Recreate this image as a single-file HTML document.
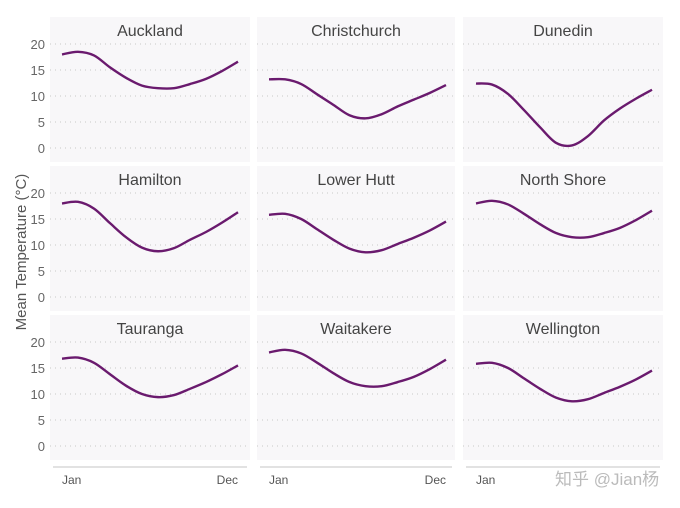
<!DOCTYPE html>
<html><head><meta charset="utf-8"><style>
body{margin:0;background:#fff;width:680px;height:503px;overflow:hidden;font-family:"Liberation Sans","Noto Sans CJK SC",sans-serif}
</style></head><body>
<svg id="c" width="680" height="503"></svg>
<script>
const months=["Jan","Feb","Mar","Apr","May","Jun","Jul","Aug","Sep","Oct","Nov","Dec"];
const cities=["Auckland","Christchurch","Dunedin","Hamilton","Lower Hutt","North Shore","Tauranga","Waitakere","Wellington"];
const auckland=[18,18.5,17.8,15.5,13.5,12,11.5,11.5,12.3,13.3,14.8,16.6];
const christchurch=[13.2,13.2,12.3,10.3,8.3,6.3,5.7,6.5,8,9.3,10.6,12.1];
const dunedin=[12.4,12.2,10.4,7.3,4,1,0.5,2.3,5.3,7.6,9.5,11.2];
const hamilton=[18,18.3,17,14.2,11.5,9.5,8.8,9.4,11,12.5,14.3,16.3];
const lowerHutt=[15.8,16,15,13,11,9.3,8.6,9,10.2,11.4,12.8,14.5];
const northShore=[18,18.5,17.8,16,14,12.3,11.5,11.5,12.3,13.3,14.8,16.6];
const tauranga=[16.8,17,16,13.8,11.6,10,9.4,9.8,11,12.3,13.8,15.5];
const waitakere=[18,18.5,17.8,16,14,12.3,11.5,11.5,12.3,13.3,14.8,16.6];
const wellington=[15.8,16,15,13,11,9.3,8.6,9,10.2,11.4,12.8,14.5];
const series=[auckland,christchurch,dunedin,hamilton,lowerHutt,northShore,tauranga,waitakere,wellington];
const yTicks=[0,5,10,15,20];
const NS="http://www.w3.org/2000/svg";
const svg=document.getElementById("c");
function mk(t,a,p){const e=document.createElementNS(NS,t);for(const k in a)e.setAttribute(k,a[k]);(p||svg).appendChild(e);return e;}
const colX=[50,257,463],colW=[200,198,200],rowY=[17,166,315],rowH=145;
const lineX0=[62,269,476],lineX1=[238,446,652];
for(let i=0;i<9;i++){
  const c=i%3,r=Math.floor(i/3);
  const g=mk("g",{});
  
  
  mk("rect",{x:colX[c],y:rowY[r],width:colW[c],height:rowH,fill:"#f8f7f9"},g);
  const y0=rowY[r]+131,k=5.2;
  const ys=v=>y0-v*k;
  const xs=j=>lineX0[c]+(lineX1[c]-lineX0[c])*j/11;
  yTicks.forEach(t=>{
    const l=mk("line",{x1:colX[c],x2:colX[c]+colW[c],y1:ys(t),y2:ys(t),stroke:"#c8c8c8","stroke-dasharray":"1 4"},g);
    
    
    if(c==0){const tx=mk("text",{x:45,y:ys(t)+5,"text-anchor":"end","font-size":"13",fill:"#666"},g);tx.textContent=t;
      
      }
  });
  const tt=mk("text",{x:colX[c]+colW[c]/2,y:rowY[r]+19,"text-anchor":"middle","font-size":"16",fill:"#444"},g);
  tt.textContent=cities[i];
  
  
  const d=series[i],P=d.map((v,j)=>[xs(j),ys(v)]);
  let s="M"+P[0][0]+","+P[0][1];
  for(let j=0;j<P.length-1;j++){
    const p0=P[j-1]||P[j],p1=P[j],p2=P[j+1],p3=P[j+2]||p2;
    s+=" C"+(p1[0]+(p2[0]-p0[0])/6)+","+(p1[1]+(p2[1]-p0[1])/6)+" "+(p2[0]-(p3[0]-p1[0])/6)+","+(p2[1]-(p3[1]-p1[1])/6)+" "+p2[0]+","+p2[1];
  }
  const pa=mk("path",{d:s,fill:"none",stroke:"#6a1a6e","stroke-width":"2.4"},g);
  
  
}
for(let c=0;c<3;c++){
  const l=mk("line",{x1:colX[c]+3,x2:colX[c]+colW[c]-3,y1:467,y2:467,stroke:"#e2e2e2","stroke-width":"2"});
  
  
  const a=mk("text",{x:lineX0[c],y:484,"font-size":"12",fill:"#555"});a.textContent=months[0];
  
  
  if(c<2){const b=mk("text",{x:lineX1[c],y:484,"font-size":"12",fill:"#555","text-anchor":"end"});b.textContent=months[11];
  
  }
}
const yl=mk("text",{x:0,y:0,"font-size":"15",fill:"#555","text-anchor":"middle",transform:"translate(26,252) rotate(-90)"});
yl.textContent="Mean Temperature (°C)";


const wm=mk("text",{x:555,y:485,"font-size":"17",fill:"#bbb"});
wm.textContent="知乎 @Jian杨";


</script>
</body></html>
